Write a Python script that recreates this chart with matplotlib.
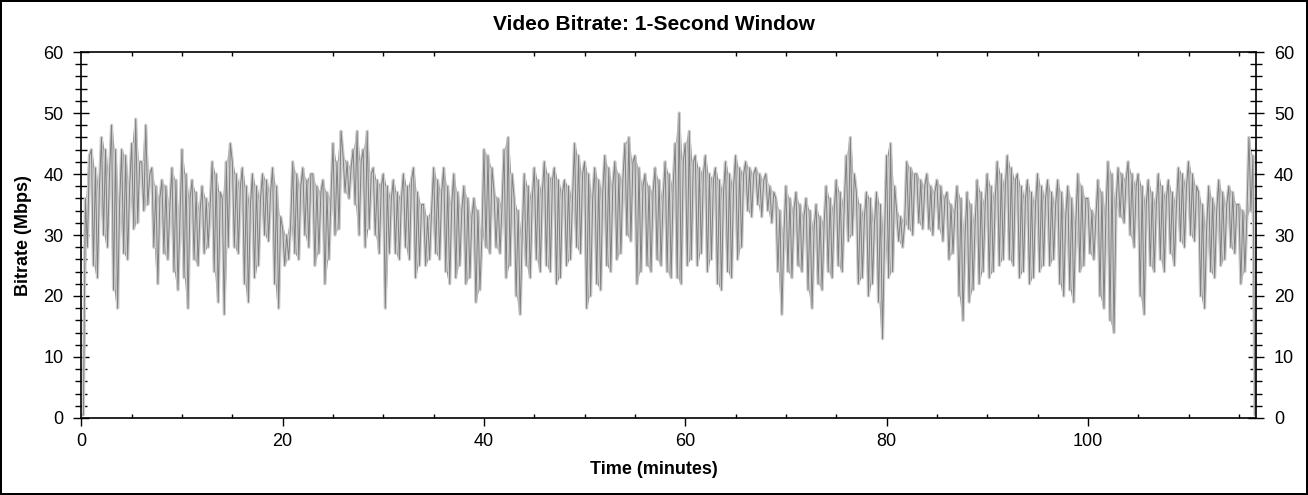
import numpy as np
import matplotlib
matplotlib.use('Agg')
import matplotlib.pyplot as plt
from matplotlib.ticker import MultipleLocator

plt.rcParams['font.family'] = ['Liberation Sans', 'DejaVu Sans']

# bitrate samples (Mbps), one every 0.2 minutes
rate_00_19 = [
    0.5, 0.5, 36, 28, 43,
    44, 25, 41, 23, 38,
    46, 30, 44, 28, 40,
    48, 21, 44, 18, 35,
    44, 27, 43, 26, 38,
    45, 31, 49, 32, 42,
    42, 34, 48, 35, 40,
    41, 28, 38, 22, 36,
    39, 27, 38, 26, 35,
    41, 24, 39, 21, 33,
    44, 23, 40, 18, 36,
    39, 26, 37, 25, 34,
    38, 27, 36, 28, 35,
    42, 24, 40, 19, 37,
    36, 17, 42, 28, 45,
    42, 28, 40, 27, 38,
    41, 22, 38, 19, 35,
    40, 23, 38, 25, 36,
    40, 30, 39, 29, 37,
    41, 22, 38, 18, 33,
]
rate_20_39 = [
    31, 25, 30, 26, 32,
    42, 27, 40, 26, 38,
    41, 30, 39, 28, 40,
    40, 25, 38, 27, 37,
    39, 22, 37, 26, 36,
    45, 30, 42, 31, 47,
    43, 37, 42, 36, 41,
    44, 35, 47, 30, 42,
    44, 28, 47, 31, 40,
    41, 30, 39, 27, 38,
    40, 18, 38, 27, 36,
    39, 27, 37, 26, 36,
    40, 28, 38, 26, 39,
    41, 23, 37, 25, 35,
    35, 25, 33, 26, 34,
    41, 27, 39, 26, 37,
    41, 24, 38, 22, 35,
    40, 23, 37, 25, 34,
    38, 22, 36, 23, 33,
    36, 19, 34, 21, 30,
]
rate_40_59 = [
    44, 28, 43, 27, 41,
    37, 28, 36, 27, 35,
    44, 23, 46, 25, 40,
    36, 20, 34, 17, 30,
    40, 25, 38, 23, 36,
    41, 26, 39, 24, 37,
    42, 25, 40, 24, 39,
    41, 22, 39, 23, 37,
    39, 25, 38, 26, 36,
    45, 28, 43, 27, 40,
    42, 18, 40, 20, 36,
    41, 22, 39, 21, 37,
    43, 25, 41, 24, 38,
    42, 26, 40, 27, 39,
    45, 30, 46, 29, 42,
    43, 22, 41, 24, 38,
    40, 25, 38, 24, 37,
    41, 26, 39, 25, 36,
    42, 24, 40, 23, 38,
    45, 23, 50, 22, 42,
]
rate_60_79 = [
    45, 25, 47, 26, 42,
    43, 25, 41, 27, 40,
    43, 24, 40, 26, 39,
    41, 22, 39, 21, 37,
    42, 24, 40, 23, 38,
    43, 26, 41, 28, 40,
    42, 34, 41, 33, 40,
    41, 35, 40, 33, 39,
    40, 34, 38, 32, 37,
    36, 24, 34, 17, 30,
    38, 24, 36, 23, 34,
    37, 25, 35, 24, 33,
    36, 21, 34, 18, 31,
    35, 22, 33, 21, 32,
    38, 24, 36, 23, 34,
    39, 25, 37, 24, 35,
    43, 29, 46, 30, 40,
    37, 22, 35, 23, 33,
    37, 20, 36, 22, 32,
    37, 19, 35, 13, 30,
]
rate_80_99 = [
    43, 23, 45, 24, 38,
    34, 29, 33, 28, 32,
    42, 31, 41, 30, 40,
    40, 32, 39, 31, 38,
    40, 31, 38, 30, 37,
    39, 31, 38, 29, 36,
    37, 26, 35, 27, 34,
    38, 20, 36, 16, 30,
    37, 19, 35, 21, 32,
    39, 22, 37, 24, 35,
    40, 23, 38, 24, 36,
    42, 25, 40, 26, 38,
    43, 26, 41, 25, 39,
    40, 23, 38, 24, 36,
    39, 22, 37, 23, 35,
    40, 24, 38, 25, 36,
    39, 25, 37, 26, 35,
    39, 22, 37, 20, 33,
    38, 21, 36, 19, 32,
    40, 24, 38, 25, 36,
]
rate_100_116 = [
    36, 27, 34, 26, 33,
    39, 20, 37, 18, 34,
    42, 16, 40, 14, 35,
    41, 33, 40, 32, 39,
    42, 30, 40, 28, 38,
    40, 20, 38, 17, 35,
    39, 25, 37, 24, 35,
    40, 26, 38, 24, 36,
    39, 27, 37, 25, 35,
    41, 29, 40, 28, 38,
    42, 30, 40, 29, 38,
    37, 20, 35, 18, 31,
    38, 24, 36, 23, 34,
    39, 25, 37, 26, 35,
    38, 28, 37, 27, 35,
    35, 22, 34, 24, 33,
    46, 34, 43, 0.5,
]

bitrate = np.array(rate_00_19 + rate_20_39 + rate_40_59 + rate_60_79
                   + rate_80_99 + rate_100_116, dtype=float)
minutes = np.arange(len(bitrate)) * 0.2

x_ticks = [0, 20, 40, 60, 80, 100]
y_ticks = [0, 10, 20, 30, 40, 50, 60]

# swing covered by the trace between neighbouring samples
upper = np.maximum(bitrate[:-1], bitrate[1:])
lower = np.minimum(bitrate[:-1], bitrate[1:])

fig = plt.figure(figsize=(13.08, 4.95), dpi=100, facecolor='white',
                 edgecolor='black', linewidth=1.5)
ax = fig.add_axes([0.0622, 0.1556, 0.8980, 0.7393])

# light halo, then the dense darker trace on top
ax.plot(minutes, bitrate, color='#d0d0d0', lw=2.4)
ax.fill_between(minutes[:-1] + 0.1, lower, upper, facecolor='#808080',
                edgecolor='none')
ax.plot(minutes, bitrate, color='#808080', lw=0.7)

ax.set_xlim(0, 116.7)
ax.set_ylim(0, 60)
ax.set_xticks(x_ticks)
ax.set_yticks(y_ticks)
ax.xaxis.set_minor_locator(MultipleLocator(5))
ax.yaxis.set_minor_locator(MultipleLocator(2))

ax.tick_params(axis='x', which='major', direction='out', length=6, width=1,
               labelsize=13, pad=5, top=False)
ax.tick_params(axis='x', which='minor', direction='in', length=3, width=1,
               top=True)
ax.tick_params(axis='y', which='major', direction='inout', length=12, width=1,
               labelsize=13, pad=7, right=True, labelright=True)
ax.tick_params(axis='y', which='minor', direction='inout', length=8, width=1,
               right=True)
for s in ax.spines.values():
    s.set_linewidth(1.2)

fig.text(0.5, 0.951, 'Video Bitrate: 1-Second Window', ha='center',
         va='center', fontsize=15, fontweight='bold')
fig.text(0.5, 0.052, 'Time (minutes)', ha='center', va='center',
         fontsize=13, fontweight='bold')
fig.text(0.0176, 0.525, 'Bitrate (Mbps)', ha='center', va='center',
         rotation=90, fontsize=13, fontweight='bold')

fig.savefig('out.png', dpi=100)
